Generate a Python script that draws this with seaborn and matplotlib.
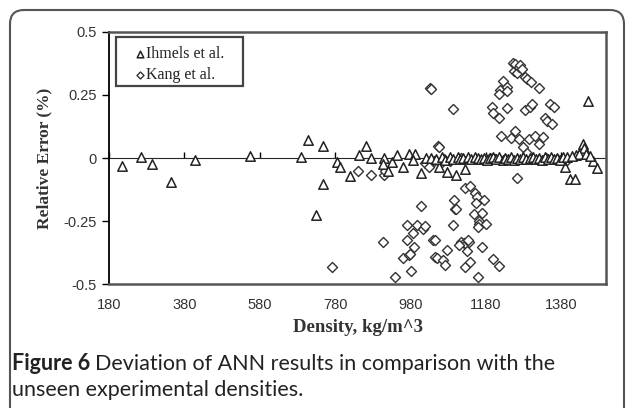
import numpy as np
import pandas as pd
import seaborn as sns
import matplotlib.pyplot as plt
from matplotlib.patches import FancyBboxPatch, Rectangle
from matplotlib.transforms import IdentityTransform

# Ihmels et al. (triangles)
ihmels_density = [213, 265, 295, 345, 408, 553, 689, 707, 748, 749, 730, 785, 794, 820,
                  844, 863, 876, 909, 908, 920, 932, 943, 959, 977, 991, 988, 1007, 1022,
                  1057, 1078, 1101, 1124, 1390, 1403, 1416, 1437, 1440, 1452, 1465, 1474,
                  1420, 1428, 1445, 1456,
                  1035, 1048, 1065, 1072, 1085, 1092, 1105, 1112, 1120, 1132, 1140, 1150,
                  1160, 1168, 1175, 1183, 1190, 1200, 1208, 1216, 1225, 1232, 1240, 1248,
                  1256, 1264, 1272, 1280, 1288, 1296, 1304, 1312, 1320, 1328, 1336, 1344,
                  1352, 1360, 1368, 1376, 1384, 1396, 1410]
ihmels_error = [-0.030, 0.005, -0.024, -0.095, -0.008, 0.008, 0.003, 0.070, 0.047, -0.104,
                -0.224, -0.017, -0.034, -0.070, 0.011, 0.049, 0.000, 0.000, -0.024, -0.050,
                -0.017, 0.011, -0.037, 0.018, 0.016, -0.008, -0.059, 0.000, -0.034, -0.054,
                -0.065, -0.042, -0.034, -0.084, -0.084, 0.055, 0.040, 0.226, -0.010, -0.038,
                0.012, 0.015, 0.018, 0.010,
                0.002, -0.004, 0.003, -0.006, 0.004, -0.003, 0.005, -0.004, 0.002, 0.004,
                -0.002, 0.003, 0.001, -0.005, 0.002, -0.006, 0.001, 0.004, -0.005, 0.003,
                -0.006, 0.002, -0.004, 0.005, -0.006, 0.002, -0.003, 0.004, -0.005, 0.001,
                0.004, -0.003, 0.002, -0.006, 0.003, -0.004, 0.005, -0.002, 0.001, -0.006,
                0.004, 0.003, 0.008]

# Kang et al. (diamonds)
kang_density = [1033, 1035, 1094, 1197, 1198, 1216, 1226, 1217, 1215, 1235, 1237, 1237,
                1219, 1248, 1251, 1254, 1258, 1262, 1268, 1272, 1276, 1283, 1289, 1300,
                1257, 1268, 1278, 1289, 1262, 1285, 1297, 1302, 1294, 1310, 1322, 1320,
                1331, 1338, 1342, 1350, 1360, 1356, 1052, 1055,
                841, 876, 910, 912, 1019, 1028, 1042, 1060, 1070, 1085, 1115, 1180, 1190,
                1205, 1230, 1300, 1340, 1370, 1395,
                772, 908, 938, 971, 970, 961, 977, 980, 982, 988, 990, 997, 1009, 1012,
                1019, 1040, 1044, 1044, 1050, 1066, 1071, 1076, 1092, 1096, 1097, 1100,
                1115, 1122, 1128, 1135, 1130, 1126, 1139, 1158, 1124, 1137, 1152, 1156,
                1153, 1149, 1161, 1163, 1170, 1175, 1158, 1180, 1169, 1198, 1216, 1110, 1133]
kang_error = [0.276, 0.272, 0.194, 0.203, 0.179, 0.157, 0.306, 0.269, 0.252, 0.280, 0.265,
              0.197, 0.088, 0.079, 0.377, 0.346, 0.372, 0.338, 0.361, 0.370, 0.351, 0.322,
              0.315, 0.303, 0.108, 0.075, 0.044, 0.022, -0.080, 0.190, 0.203, 0.214, 0.074,
              0.088, 0.055, 0.277, 0.082, 0.157, 0.148, 0.214, 0.203, 0.137, 0.049, 0.042,
              -0.050, -0.065, -0.066, -0.050, -0.021, -0.035, -0.010, -0.020, -0.005, -0.010,
              0.000, -0.004, 0.002, -0.002, -0.004, -0.003, 0.000, -0.004, -0.008,
              -0.430, -0.334, -0.470, -0.263, -0.325, -0.397, -0.384, -0.380, -0.446, -0.296,
              -0.351, -0.266, -0.189, -0.282, -0.269, -0.325, -0.325, -0.390, -0.395, -0.404,
              -0.423, -0.364, -0.265, -0.166, -0.203, -0.200, -0.332, -0.335, -0.340, -0.331,
              -0.367, -0.430, -0.413, -0.472, -0.120, -0.111, -0.137, -0.156, -0.179, -0.223,
              -0.248, -0.260, -0.219, -0.166, -0.272, -0.259, -0.351, -0.400, -0.426, -0.345,
              -0.323]

x_ticks = [180, 380, 580, 780, 980, 1180, 1380]
y_ticks = [-0.5, -0.25, 0, 0.25, 0.5]
y_labels = ['-0.5', '-0.25', '0', '0.25', '0.5']

ihmels = pd.DataFrame({'density': ihmels_density, 'error': ihmels_error})
kang = pd.DataFrame({'density': kang_density, 'error': kang_error})

sns.set_style('white')
plt.rcParams['font.family'] = ['Liberation Sans', 'DejaVu Sans']

fig = plt.figure(figsize=(6.29, 4.08), dpi=100)
ax = fig.add_axes([0.1735, 0.303, 0.7905, 0.619])

sns.scatterplot(data=kang, x='density', y='error', marker='D', s=26, color='white',
                edgecolor='#333333', linewidth=1.0, ax=ax, label='Kang et al.', zorder=3)
sns.scatterplot(data=ihmels, x='density', y='error', marker='^', s=46, color='white',
                edgecolor='#222222', linewidth=1.1, ax=ax, label='Ihmels et al.', zorder=4)

ax.set_xlim(180, 1500)
ax.set_ylim(-0.5, 0.5)
ax.set_xticks(x_ticks)
ax.set_xticklabels([str(t) for t in x_ticks])
ax.set_yticks(y_ticks)
ax.set_yticklabels(y_labels)
ax.tick_params(axis='x', length=0, pad=10, labelsize=10.5, labelcolor='#333333')
ax.tick_params(axis='y', length=5, width=1, direction='out', color='black', pad=4,
               labelsize=10.5, labelcolor='#333333', left=True)

for side in ['top', 'right', 'bottom']:
    ax.spines[side].set_color('#555555')
    ax.spines[side].set_linewidth(1.8)
ax.spines['left'].set_color('black')
ax.spines['left'].set_linewidth(1.3)

# x axis crossing at zero
zero_axis = ax.secondary_xaxis(0.5)
zero_axis.set_xticks(x_ticks)
zero_axis.set_xticklabels([])
zero_axis.tick_params(length=4, width=1, direction='out', color='black')
zero_axis.spines['bottom'].set_linewidth(1.5)
zero_axis.spines['bottom'].set_color('black')

ax.set_xlabel('Density, kg/m^3', family='Liberation Serif', fontweight='bold',
              fontsize=13.5, color='#333333', labelpad=5)
ax.set_ylabel('Relative Error (%)', family='Liberation Serif', fontweight='bold',
              fontsize=12.5, color='#333333', labelpad=8)

handles, labels = ax.get_legend_handles_labels()
leg = ax.legend(handles[::-1], labels[::-1], loc='upper left', bbox_to_anchor=(0.052, 0.943),
                frameon=False, prop={'family': 'Liberation Serif', 'size': 11.5},
                handletextpad=0.1, borderpad=0, labelspacing=0.3, handlelength=0.6,
                markerscale=0.7, borderaxespad=0)
for t in leg.get_texts():
    t.set_color('#222222')
# legend box, Excel style
ax.add_patch(Rectangle((0.014, 0.785), 0.255, 0.194, transform=ax.transAxes,
                       facecolor='none', edgecolor='#444444', linewidth=1.6, zorder=5))

# rounded outer frame of the figure panel
frame = FancyBboxPatch((10, -30), 614, 428, boxstyle='round,pad=0,rounding_size=14',
                       transform=IdentityTransform(), facecolor='none',
                       edgecolor='#555555', linewidth=1.5)
fig.patches.append(frame)

cap_font = ['Lato', 'DejaVu Sans']
t1 = fig.text(12 / 629, 1 - 364 / 408, 'Figure 6', family=cap_font, fontweight='bold',
              fontsize=15.5, va='center', ha='left', color='#222222')
fig.canvas.draw()
bb = t1.get_window_extent()
fig.text((bb.x1 + 5) / 629, 1 - 364 / 408, 'Deviation of ANN results in comparison with the',
         family=cap_font, fontsize=15.5, va='center', ha='left', color='#222222')
fig.text(12 / 629, 1 - 390 / 408, 'unseen experimental densities.', family=cap_font,
         fontsize=15.5, va='center', ha='left', color='#222222')

fig.savefig('out.png', dpi=100)
